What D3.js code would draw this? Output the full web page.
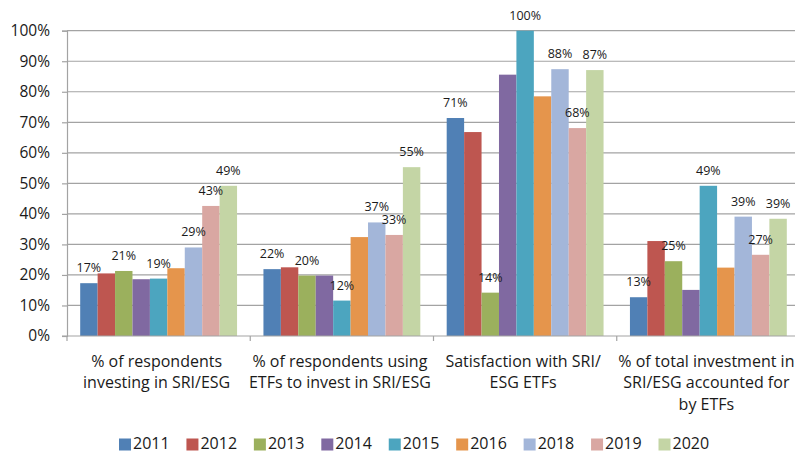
<!DOCTYPE html>
<html>
<head>
<meta charset="utf-8">
<script src="https://cdn.jsdelivr.net/npm/d3@7/dist/d3.min.js"></script>
<style>
  html, body { margin: 0; padding: 0; background: #fff; }
  svg { display: block; font-family: "Open Sans", "Liberation Sans", sans-serif; }
</style>
</head>
<body>
<svg id="chart" width="795" height="454"></svg>
<script>
// ---- data ----
const categories = [
  ["% of respondents", "investing in SRI/ESG"],
  ["% of respondents using", "ETFs to invest in SRI/ESG"],
  ["Satisfaction with SRI/", "ESG ETFs"],
  ["% of total investment in", "SRI/ESG accounted for", "by ETFs"]
];
const years = ["2011", "2012", "2013", "2014", "2015", "2016", "2018", "2019", "2020"];
const v2011 = [17.3, 21.9, 71.4, 12.7];
const v2012 = [20.5, 22.5, 66.8, 31.1];
const v2013 = [21.3, 19.8, 14.2, 24.5];
const v2014 = [18.6, 19.8, 85.6, 15.1];
const v2015 = [18.8, 11.6, 100, 49.2];
const v2016 = [22.2, 32.4, 78.5, 22.4];
const v2018 = [29.0, 37.2, 87.4, 39.1];
const v2019 = [42.6, 33.1, 68.1, 26.6];
const v2020 = [49.2, 55.3, 87.1, 38.4];
const l2011 = ["17%", "22%", "71%", "13%"];
const l2013 = ["21%", "20%", "14%", "25%"];
const l2015 = ["19%", "12%", "100%", "49%"];
const l2018 = ["29%", "37%", "88%", "39%"];
const l2019 = ["43%", "33%", "68%", "27%"];
const l2020 = ["49%", "55%", "87%", "39%"];
const yTicks = [0, 10, 20, 30, 40, 50, 60, 70, 80, 90, 100];
const colors = ["#5080B5", "#BE5650", "#9BB05D", "#8069A1", "#4CA5BF", "#E5954C", "#A3B6D9", "#D9A7A2", "#C4D5A5"];

const series = [
  { year: "2011", values: v2011, labels: l2011 },
  { year: "2012", values: v2012, labels: null },
  { year: "2013", values: v2013, labels: l2013 },
  { year: "2014", values: v2014, labels: null },
  { year: "2015", values: v2015, labels: l2015 },
  { year: "2016", values: v2016, labels: null },
  { year: "2018", values: v2018, labels: l2018 },
  { year: "2019", values: v2019, labels: l2019 },
  { year: "2020", values: v2020, labels: l2020 }
];

// ---- layout ----
const svg = d3.select("#chart");
const mLeft = 67, mRight = 800, mTop = 30.7, mBottom = 336;
const catIdx = categories.map((c, i) => i);

const x = d3.scaleBand().domain(catIdx).range([mLeft, mRight]).padding(0);
const bw = x.bandwidth();
const gap = bw * 0.072;
const xi = d3.scaleBand().domain(years).range([gap, bw - gap]).padding(0);
const y = d3.scaleLinear().domain([0, 100]).range([mBottom, mTop]);
const color = d3.scaleOrdinal().domain(years).range(colors);

const gridColor = "#A3A3A3";

// gridlines
svg.append("g").selectAll("line").data(yTicks.filter(t => t > 0)).join("line")
  .attr("x1", mLeft).attr("x2", 795)
  .attr("y1", d => y(d)).attr("y2", d => y(d))
  .attr("stroke", gridColor).attr("stroke-width", 1.2);

// bars
const gS = svg.append("g").selectAll("g").data(series).join("g")
  .attr("fill", d => color(d.year));
gS.selectAll("rect").data(d => d.values.map((v, i) => ({ v, i, year: d.year }))).join("rect")
  .attr("x", d => x(d.i) + xi(d.year))
  .attr("width", xi.bandwidth())
  .attr("y", d => y(d.v))
  .attr("height", d => y(0) - y(d.v));

// y axis
const yAxis = d3.axisLeft(y).tickValues(yTicks).tickFormat(d => d + "%").tickSize(5).tickPadding(12);
const ya = svg.append("g").attr("transform", `translate(${mLeft},0)`).call(yAxis);
ya.select(".domain").attr("stroke", gridColor).attr("stroke-width", 1.2);
ya.selectAll(".tick line").attr("stroke", gridColor).attr("stroke-width", 1.2);
ya.selectAll(".tick text").attr("font-size", "15.5px").attr("fill", "#1a1a1a")
  .attr("font-family", "Open Sans, sans-serif");

// x axis line with ticks at category boundaries
const xa = svg.append("g");
xa.append("line").attr("x1", mLeft - 5).attr("x2", 795).attr("y1", mBottom).attr("y2", mBottom)
  .attr("stroke", gridColor).attr("stroke-width", 1.2);
xa.selectAll("line.tk").data(catIdx.concat([categories.length])).join("line").attr("class", "tk")
  .attr("x1", d => d < categories.length ? x(d) : mRight).attr("x2", d => d < categories.length ? x(d) : mRight)
  .attr("y1", mBottom).attr("y2", mBottom + 5)
  .attr("stroke", gridColor).attr("stroke-width", 1.2);

// category labels
const cl = svg.append("g").selectAll("text").data(categories).join("text")
  .attr("text-anchor", "middle").attr("font-size", "16px").attr("fill", "#1a1a1a")
  .attr("y", 367);
cl.each(function (lines, i) {
  d3.select(this).selectAll("tspan").data(lines).join("tspan")
    .attr("x", x(i) + bw / 2 - 2)
    .attr("dy", (d, j) => j === 0 ? 0 : 21.3)
    .text(d => d);
});

// data labels
const labelData = [];
series.forEach(s => {
  if (!s.labels) return;
  s.values.forEach((v, i) => labelData.push({ v, i, year: s.year, t: s.labels[i] }));
});
svg.append("g").selectAll("text").data(labelData).join("text")
  .attr("x", d => x(d.i) + xi(d.year) + xi.bandwidth() / 2)
  .attr("y", d => y(d.v) - 11)
  .attr("text-anchor", "middle").attr("font-size", "12.5px").attr("fill", "#1a1a1a")
  .text(d => d.t);

// legend
const legX = d3.scalePoint().domain(years).range([119, 658.5]);
const lg = svg.append("g").selectAll("g").data(years).join("g")
  .attr("transform", d => `translate(${legX(d)},438.5)`);
lg.append("rect").attr("width", 12).attr("height", 12).attr("fill", d => color(d));
lg.append("text").attr("x", 14).attr("y", 10.8).attr("font-size", "16px").attr("fill", "#1a1a1a")
  .text(d => d);
</script>
</body>
</html>
